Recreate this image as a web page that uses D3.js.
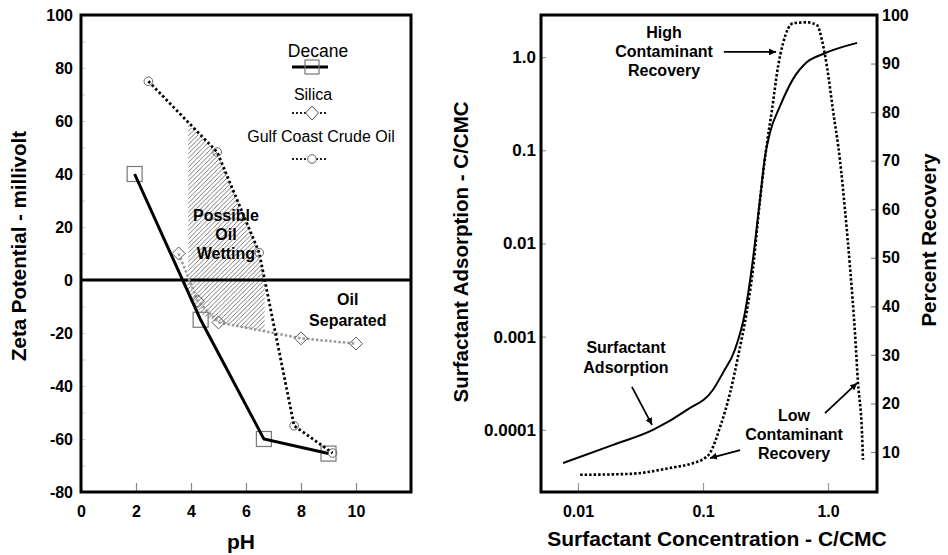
<!DOCTYPE html>
<html>
<head>
<meta charset="utf-8">
<script src="https://cdn.jsdelivr.net/npm/d3@7"></script>
<style>
  body { margin: 0; background: #fff; }
  svg { font-family: "Liberation Sans", Arial, sans-serif; }
</style>
</head>
<body>
<svg width="948" height="555"></svg>
<script>
// ---- left chart data (zeta potential vs pH)
var decanePH = [1.95, 4.35, 6.65, 9.0];
var decaneZeta = [40, -15, -60, -65.5];
var silicaPH = [3.55, 4.25, 5.0, 8.0, 10.0];
var silicaZeta = [10, -8, -16, -22, -24];
var crudePH = [2.45, 4.95, 6.48, 7.75, 9.15];
var crudeZeta = [75, 48.3, 10.3, -55, -65.3];
// hatched "possible oil wetting" zone (pH, mV)
var hatchPH = [3.9, 4.95, 6.48, 6.68, 6.68, 5.0, 4.35, 3.7, 3.9];
var hatchZeta = [58.5, 48.3, 10.3, 0, -19.5, -16, -13, 0, 0];
var leftXTicks = [0, 2, 4, 6, 8, 10];
var leftYTicks = d3.range(-80, 101, 10);

// ---- right chart data (surfactant)
var adsConc = [0.0076, 0.0191, 0.0398, 0.0745, 0.1202, 0.1445, 0.180, 0.2166, 0.2466, 0.2858, 0.313, 0.344, 0.413, 0.525, 0.679, 0.912, 1.71];
var adsValue = [4.4e-5, 6.9e-5, 1.0e-4, 1.64e-4, 2.69e-4, 4.1e-4, 7.24e-4, 1.81e-3, 5.66e-3, 0.0297, 0.085, 0.156, 0.297, 0.58, 0.883, 1.08, 1.42];
var recConc = [0.0104, 0.0261, 0.0545, 0.0832, 0.1000, 0.1138, 0.1368, 0.1644, 0.1905, 0.225, 0.2466, 0.2858, 0.325, 0.356, 0.398, 0.437, 0.525, 0.679, 0.817, 0.895, 0.982, 1.096, 1.247, 1.368, 1.50, 1.644, 1.738, 1.871, 1.905];
var recPercent = [5.3, 5.5, 6.7, 7.7, 8.5, 9.8, 15.1, 22.1, 29.6, 39.2, 46.0, 61.9, 73.6, 80.4, 89.3, 94.2, 98.3, 98.5, 97.9, 94.8, 89.3, 80.4, 70.1, 59.8, 48.1, 34.5, 24.2, 13.9, 8.4];
var concTicks = [0.01, 0.1, 1];
var concLabels = ["0.01", "0.1", "1.0"];
var adsTicks = [1e-4, 1e-3, 0.01, 0.1, 1];
var adsLabels = ["0.0001", "0.001", "0.01", "0.1", "1.0"];
var recTicks = d3.range(10, 101, 10);

var svg = d3.select("svg");

// hatch pattern
var defs = svg.append("defs");
defs.append("pattern")
    .attr("id", "hatch")
    .attr("patternUnits", "userSpaceOnUse")
    .attr("width", 4.5).attr("height", 4.5)
    .append("path")
    .attr("d", "M-1,1 l2,-2 M0,4.5 l4.5,-4.5 M3.5,5.5 l2,-2")
    .attr("stroke", "#555").attr("stroke-width", 0.8);
defs.append("marker")
    .attr("id", "arrow")
    .attr("viewBox", "0 0 10 10")
    .attr("refX", 10).attr("refY", 5)
    .attr("markerWidth", 7).attr("markerHeight", 7)
    .attr("markerUnits", "userSpaceOnUse")
    .attr("orient", "auto")
    .append("path").attr("d", "M0,0 L10,5 L0,10 z").attr("fill", "#000");

// ================= LEFT CHART =================
var xL = d3.scaleLinear().domain([0, 12]).range([81, 411]);
var yL = d3.scaleLinear().domain([-80, 100]).range([492, 15]);
var gL = svg.append("g");

// hatch
var hatchPts = hatchPH.map((p, i) => [xL(p), yL(hatchZeta[i])]);
gL.append("path")
    .attr("d", d3.line()(hatchPts) + "Z")
    .attr("fill", "url(#hatch)");

// y ticks (every 10, labels every 20)
var yAxisL = gL.append("g")
    .attr("transform", "translate(81,0)")
    .call(d3.axisLeft(yL).tickValues(leftYTicks).tickSize(-4).tickPadding(8)
        .tickFormat(d => d % 20 === 0 ? d : ""));
yAxisL.select(".domain").remove();
yAxisL.selectAll(".tick line").attr("stroke", "#ccc");
yAxisL.selectAll(".tick text").attr("font-size", 16).attr("font-weight", "bold")
    .attr("font-family", "Liberation Sans, Arial, sans-serif").attr("fill", "#000");

var xAxisL = gL.append("g")
    .attr("transform", "translate(0,492)")
    .call(d3.axisBottom(xL).tickValues(leftXTicks).tickSize(-9).tickPadding(14));
xAxisL.select(".domain").remove();
xAxisL.selectAll(".tick line").attr("stroke", "#888").attr("stroke-width", 1.2);
xAxisL.selectAll(".tick text").attr("font-size", 16).attr("font-weight", "bold")
    .attr("font-family", "Liberation Sans, Arial, sans-serif").attr("fill", "#000");

// zero line
gL.append("line")
    .attr("x1", xL(0)).attr("x2", xL(12))
    .attr("y1", yL(0)).attr("y2", yL(0))
    .attr("stroke", "#000").attr("stroke-width", 3);

var lineL = d3.line().x(d => xL(d[0])).y(d => yL(d[1]));

// silica (grey dotted)
var silicaPts = silicaPH.map((p, i) => [p, silicaZeta[i]]);
gL.append("path").attr("d", lineL(silicaPts))
    .attr("fill", "none").attr("stroke", "#9a9a9a").attr("stroke-width", 2.5)
    .attr("stroke-dasharray", "2.5,2");
gL.selectAll(".dia").data(silicaPts).enter().append("path")
    .attr("d", "M0,-6.5 L6.5,0 L0,6.5 L-6.5,0 Z")
    .attr("transform", d => "translate(" + xL(d[0]) + "," + yL(d[1]) + ")")
    .attr("fill", "none").attr("stroke", "#555").attr("stroke-width", 1);

// decane
var decanePts = decanePH.map((p, i) => [p, decaneZeta[i]]);
gL.selectAll(".sq").data(decanePts).enter().append("rect")
    .attr("x", d => xL(d[0]) - 7.5).attr("y", d => yL(d[1]) - 7.5)
    .attr("width", 15).attr("height", 15)
    .attr("fill", "none").attr("stroke", "#777").attr("stroke-width", 1.2);
gL.append("path").attr("d", lineL(decanePts))
    .attr("fill", "none").attr("stroke", "#000").attr("stroke-width", 3);

// crude oil (black dotted)
var crudePts = crudePH.map((p, i) => [p, crudeZeta[i]]);
gL.append("path").attr("d", lineL(crudePts))
    .attr("fill", "none").attr("stroke", "#000").attr("stroke-width", 2.8)
    .attr("stroke-dasharray", "2.5,2.5");
gL.selectAll(".circ").data(crudePts).enter().append("circle")
    .attr("cx", d => xL(d[0])).attr("cy", d => yL(d[1])).attr("r", 4.3)
    .attr("fill", "none").attr("stroke", "#666").attr("stroke-width", 1);

// frame
gL.append("rect").attr("x", 81).attr("y", 15).attr("width", 330).attr("height", 477)
    .attr("fill", "none").attr("stroke", "#000").attr("stroke-width", 3);

// legend
var leg = gL.append("g").attr("font-size", 16);
leg.append("text").attr("x", 318).attr("y", 57).attr("text-anchor", "middle")
    .attr("font-size", 17.5).text("Decane");
leg.append("line").attr("x1", 292).attr("x2", 328).attr("y1", 67).attr("y2", 67)
    .attr("stroke", "#000").attr("stroke-width", 3);
leg.append("rect").attr("x", 305).attr("y", 60).attr("width", 14).attr("height", 14)
    .attr("fill", "none").attr("stroke", "#777").attr("stroke-width", 1.2);
leg.append("text").attr("x", 313).attr("y", 100).attr("text-anchor", "middle").text("Silica");
leg.append("line").attr("x1", 292).attr("x2", 328).attr("y1", 113).attr("y2", 113)
    .attr("stroke", "#222").attr("stroke-width", 2).attr("stroke-dasharray", "2,2");
leg.append("path").attr("d", "M312,106 L318.5,113 L312,120 L305.5,113 Z")
    .attr("fill", "#fff").attr("stroke", "#555");
leg.append("text").attr("x", 321).attr("y", 142).attr("text-anchor", "middle").text("Gulf Coast Crude Oil");
leg.append("line").attr("x1", 292).attr("x2", 328).attr("y1", 159).attr("y2", 159)
    .attr("stroke", "#222").attr("stroke-width", 2).attr("stroke-dasharray", "2,2");
leg.append("circle").attr("cx", 312).attr("cy", 159).attr("r", 4.3)
    .attr("fill", "#fff").attr("stroke", "#666");

// annotations
var annL = gL.append("g").attr("font-size", 16).attr("font-weight", "bold").attr("text-anchor", "middle");
["Possible", "Oil", "Wetting"].forEach(function (t, i) {
    annL.append("text").attr("x", xL(5.27)).attr("y", yL(24.5) + 6 + i * 19).text(t);
});
["Oil", "Separated"].forEach(function (t, i) {
    annL.append("text").attr("x", xL(9.7)).attr("y", yL(-7.2) + 6 + i * 21).text(t);
});

// axis titles
gL.append("text")
    .attr("transform", "translate(26,246) rotate(-90)")
    .attr("text-anchor", "middle").attr("font-size", 20.5).attr("font-weight", "bold")
    .text("Zeta Potential - millivolt");
gL.append("text").attr("x", 241).attr("y", 549)
    .attr("text-anchor", "middle").attr("font-size", 21).attr("font-weight", "bold")
    .text("pH");

// ================= RIGHT CHART =================
var xR = d3.scaleLog().domain([Math.pow(10, -2.296), Math.pow(10, 0.392)]).range([541, 877]);
var yA = d3.scaleLog().domain([Math.pow(10, -4.667), Math.pow(10, 0.4516)]).range([492, 15]);
var yP = d3.scaleLinear().domain([1.76, 100]).range([492, 15]);
var gR = svg.append("g");

function styleAxis(g, tickColor, size) {
    g.select(".domain").remove();
    g.selectAll(".tick line").attr("stroke", tickColor).attr("stroke-width", 1.2);
    g.selectAll(".tick text").attr("font-size", size).attr("font-weight", "bold")
        .attr("font-family", "Liberation Sans, Arial, sans-serif").attr("fill", "#000");
}

var axB = gR.append("g").attr("transform", "translate(0,492)")
    .call(d3.axisBottom(xR).tickValues(concTicks).tickSize(-9).tickPadding(14)
        .tickFormat((d, i) => concLabels[i]));
styleAxis(axB, "#999", 16);

var axLft = gR.append("g").attr("transform", "translate(541,0)")
    .call(d3.axisLeft(yA).tickValues(adsTicks).tickSize(-5).tickPadding(5)
        .tickFormat((d, i) => adsLabels[i]));
styleAxis(axLft, "#999", 17);

var axRt = gR.append("g").attr("transform", "translate(877,0)")
    .call(d3.axisRight(yP).tickValues(recTicks).tickSize(-6).tickPadding(5));
styleAxis(axRt, "#888", 16);

// recovery (dotted)
var recPts = recConc.map((c, i) => [c, recPercent[i]]);
gR.append("path")
    .attr("d", d3.line().x(d => xR(d[0])).y(d => yP(d[1])).curve(d3.curveMonotoneX)(recPts))
    .attr("fill", "none").attr("stroke", "#000").attr("stroke-width", 2.6)
    .attr("stroke-dasharray", "2.5,2");

// adsorption (solid)
var adsPts = adsConc.map((c, i) => [c, adsValue[i]]);
gR.append("path")
    .attr("d", d3.line().x(d => xR(d[0])).y(d => yA(d[1])).curve(d3.curveMonotoneX)(adsPts))
    .attr("fill", "none").attr("stroke", "#000").attr("stroke-width", 2);

// frame
gR.append("rect").attr("x", 541).attr("y", 15).attr("width", 336).attr("height", 477)
    .attr("fill", "none").attr("stroke", "#000").attr("stroke-width", 3);

// annotations (positioned in concentration / percent units)
var annR = gR.append("g").attr("font-size", 16).attr("font-weight", "bold").attr("text-anchor", "middle");
function block(lines, c, p, gap) {
    lines.forEach(function (t, i) {
        annR.append("text").attr("x", xR(c)).attr("y", yP(p) + 6 + i * gap).text(t);
    });
}
block(["High", "Contaminant", "Recovery"], 0.0488, 96.5, 19);
block(["Surfactant", "Adsorption"], 0.0242, 31.6, 20);
block(["Low", "Contaminant", "Recovery"], 0.535, 17.6, 19);

var arrows = [
    [[0.147, 92.4], [0.384, 92.4]],
    [[0.0270, 23.4], [0.0391, 15.6]],
    [[0.946, 18.0], [1.706, 24.2]],
    [[0.198, 10.4], [0.1138, 8.76]]
];
gR.selectAll(".arr").data(arrows).enter().append("line")
    .attr("x1", d => xR(d[0][0])).attr("y1", d => yP(d[0][1]))
    .attr("x2", d => xR(d[1][0])).attr("y2", d => yP(d[1][1]))
    .attr("stroke", "#000").attr("stroke-width", 1.8)
    .attr("marker-end", "url(#arrow)");

// axis titles
gR.append("text")
    .attr("transform", "translate(468,252) rotate(-90)")
    .attr("text-anchor", "middle").attr("font-size", 20.5).attr("font-weight", "bold")
    .text("Surfactant Adsorption - C/CMC");
gR.append("text")
    .attr("transform", "translate(936,240) rotate(-90)")
    .attr("text-anchor", "middle").attr("font-size", 20.5).attr("font-weight", "bold")
    .text("Percent Recovery");
gR.append("text").attr("x", 717).attr("y", 546)
    .attr("text-anchor", "middle").attr("font-size", 21).attr("font-weight", "bold")
    .text("Surfactant Concentration - C/CMC");
</script>
</body>
</html>
